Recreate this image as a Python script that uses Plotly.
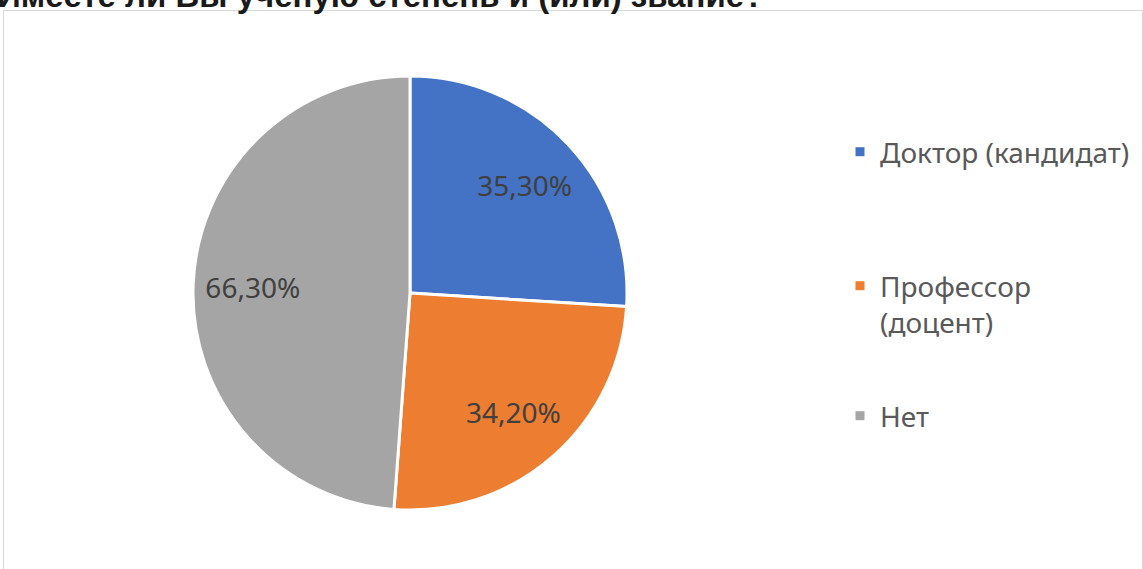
import plotly.graph_objects as go

W, H = 1143, 569

title_text = "Имеете ли Вы ученую степень и (или) звание?"
labels = ["Доктор (кандидат)", "Профессор<br>(доцент)", "Нет"]
values = [35.30, 34.20, 66.30]
colors = ["#4472C4", "#ED7D31", "#A5A5A5"]

cx, cy, r = 410, 293, 217
pie_domain = dict(x=[(cx - r) / W, (cx + r) / W], y=[1 - (cy + r) / H, 1 - (cy - r) / H])

fig = go.Figure()
# coloured slices
fig.add_trace(go.Pie(
    labels=labels, values=values, sort=False,
    direction="clockwise", rotation=0,
    marker=dict(colors=colors, line=dict(color="white", width=3)),
    textinfo="none", hoverinfo="label+value",
    showlegend=False, domain=pie_domain,
))
# transparent ring carrying the data labels further out, like the original
fig.add_trace(go.Pie(
    labels=labels, values=values, sort=False,
    direction="clockwise", rotation=0, hole=0.45,
    marker=dict(colors=["rgba(0,0,0,0)"] * len(values), line=dict(width=0)),
    texttemplate="%{value:.2f}%",
    textposition="inside",
    insidetextorientation="horizontal",
    textfont=dict(family="Noto Sans", size=28, color="#404040"),
    hoverinfo="skip",
    showlegend=False, domain=pie_domain,
))

legend_names = ["legend", "legend2", "legend3"]
legend_centers = [152, 304, 416]
for lab, col, lg in zip(labels, colors, legend_names):
    fig.add_trace(go.Scatter(
        x=[None], y=[None], mode="markers", name=lab,
        marker=dict(symbol="square", size=9, color=col),
        legend=lg, showlegend=True, hoverinfo="skip",
    ))

leg_font = dict(family="Noto Sans", size=28, color="#595959")
leg_common = dict(font=leg_font, xanchor="left", yanchor="middle", x=840 / W,
                  bgcolor="rgba(0,0,0,0)", valign="top", itemclick=False)
layout_legends = {}
for lg, yc in zip(legend_names, legend_centers):
    layout_legends[lg] = dict(leg_common, y=1 - yc / H)

fig.update_layout(
    width=W, height=H,
    margin=dict(l=0, r=0, t=0, b=0),
    paper_bgcolor="white", plot_bgcolor="white",
    separators=", ",
    xaxis=dict(visible=False), yaxis=dict(visible=False),
    shapes=[dict(type="rect", xref="paper", yref="paper",
                 x0=3.5 / W, x1=1142.5 / W, y0=-0.01, y1=1 - 10.5 / H,
                 line=dict(color="#D9D9D9", width=1.2), fillcolor="rgba(0,0,0,0)", layer="below")],
    annotations=[dict(text="<b>" + title_text + "</b>", xref="paper", yref="paper",
                      x=-0.0045, y=1, xanchor="left", yanchor="middle", yshift=5,
                      showarrow=False,
                      font=dict(family="Liberation Sans", size=33, color="#1A1A1A"))],
    **layout_legends,
)

fig.write_html("out.html", config={"displayModeBar": False},
               post_script="document.body.style.margin='0px';")
